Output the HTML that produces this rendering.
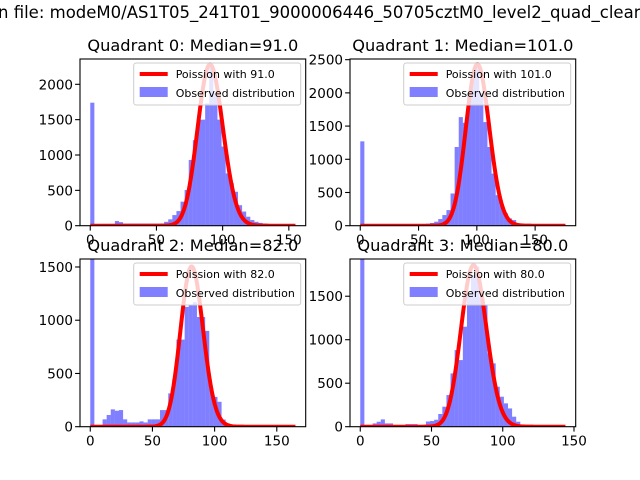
<!DOCTYPE html>
<html><head><meta charset="utf-8"><style>
html,body{margin:0;padding:0;background:#fff;width:640px;height:480px;overflow:hidden}
svg{display:block;font-family:"DejaVu Sans","Liberation Sans",sans-serif}
</style></head><body>
<svg id="fig" width="640" height="480" viewBox="0 0 640 480">
<text x="-2" y="18" font-size="16.5" fill="#000">n file: modeM0/AS1T05_241T01_9000006446_50705cztM0_level2_quad_clean.evt</text>
</svg>
<script>
const titles = ["Quadrant 0: Median=91.0","Quadrant 1: Median=101.0","Quadrant 2: Median=82.0","Quadrant 3: Median=80.0"];
const lambdas = [91, 101, 82, 80];
const dataMax = [155, 176, 165, 144];
const curveScale = [54600, 61300, 34180, 41660];
const yMaxes = [2358, 2510, 1575, 1928];
const xTicks = [[0,50,100,150],[0,50,100,150],[0,50,100,150],[0,50,100,150]];
const yTicks = [[0,500,1000,1500,2000],[0,500,1000,1500,2000,2500],[0,500,1000,1500],[0,500,1000,1500]];
const counts0 = [1740,0,10,25,25,25,66,50,30,30,30,30,30,30,30,30,30,30,55,90,150,207,340,505,930,1210,1500,1500,1730,2260,1870,1500,1120,740,600,480,290,200,127,80,55,40,30,20,15,5,0,0,0,0];
const counts1 = [1270,5,5,5,5,5,5,5,5,5,5,5,5,5,5,5,30,40,60,100,160,235,485,1185,1635,1550,1985,2235,2410,1995,1560,1185,785,460,310,185,110,85,35,20,15,5,0,0,0,0,0,0,0,0];
const counts2 = [2500,0,0,69,110,163,150,156,69,40,40,40,50,40,69,69,69,156,156,313,450,818,818,1125,1140,1170,1030,1030,900,360,280,234,67,30,15,5,0,0,0,0,0,0,0,0,0,0,0,0,0,0];
const counts3 = [2500,0,0,38,57,84,38,38,5,5,5,30,30,30,10,15,60,65,80,146,230,364,613,881,766,1150,1533,1743,1840,1494,1400,843,728,460,345,268,210,115,57,20,10,0,0,0,0,0,0,0,0,0];
const allCounts = [counts0, counts1, counts2, counts3];

const boxes = [{l:80,r:305.7,t:59,b:225.7},{l:350,r:575.7,t:59,b:225.7},{l:80,r:305.7,t:259,b:426.7},{l:350,r:575.7,t:259,b:426.7}];
const NS = "http://www.w3.org/2000/svg";
const svg = document.getElementById('fig');
function mk(tag, attrs, parent){const e=document.createElementNS(NS,tag);for(const k in attrs)e.setAttribute(k,attrs[k]);(parent||svg).appendChild(e);return e;}
function lgamma(z){
  let s=0; while(z<7){s-=Math.log(z);z+=1;}
  return s+(z-0.5)*Math.log(z)-z+0.5*Math.log(2*Math.PI)+1/(12*z)-1/(360*z*z*z)+1/(1260*Math.pow(z,5));
}
for(let q=0;q<4;q++){
  const B=boxes[q], mx=dataMax[q], pad=mx*0.05;
  const x0=-pad, x1=mx+pad, ymax=yMaxes[q];
  const X=v=>B.l+(v-x0)/(x1-x0)*(B.r-B.l);
  const Y=v=>B.b-v/ymax*(B.b-B.t);
  const g=mk('g',{});
  
  
  const cid='clip'+q;
  const cp=mk('clipPath',{id:cid},g);mk('rect',{x:B.l,y:B.t,width:B.r-B.l,height:B.b-B.t},cp);
  const plot=mk('g',{'clip-path':'url(#'+cid+')'},g);
  const counts=allCounts[q], n=counts.length, bw=mx/n;
  counts.forEach((c,i)=>{
    if(c<=0)return;
    const r=mk('rect',{x:X(i*bw),y:Y(c),width:X((i+1)*bw)-X(i*bw),height:B.b-Y(c),fill:'#0000ff','fill-opacity':0.5},plot);
    
    
  });
  const lam=lambdas[q];let d='';
  for(let k=0;k<=mx;k++){
    const p=Math.exp(k*Math.log(lam)-lam-lgamma(k+1))*curveScale[q];
    d+=(k?'L':'M')+X(k).toFixed(2)+' '+Y(p).toFixed(2);
  }
  const line=mk('path',{d:d,fill:'none',stroke:'#ff0000','stroke-width':4,'stroke-linejoin':'round'},plot);
  
  
  const frame=mk('rect',{x:B.l,y:B.t,width:B.r-B.l,height:B.b-B.t,fill:'none',stroke:'#000','stroke-width':1.1},g);
  
  
  xTicks[q].forEach(t=>{
    const x=X(t);
    mk('line',{x1:x,x2:x,y1:B.b,y2:B.b+4.9,stroke:'#000','stroke-width':1.1},g);
    const tx=mk('text',{x:x,y:B.b+19,'font-size':13.5,'text-anchor':'middle'},g);tx.textContent=t;
    
    
  });
  yTicks[q].forEach(t=>{
    const y=Y(t);
    mk('line',{x1:B.l-4.9,x2:B.l,y1:y,y2:y,stroke:'#000','stroke-width':1.1},g);
    const tx=mk('text',{x:B.l-7,y:y+5,'font-size':13.5,'text-anchor':'end'},g);tx.textContent=t;
    
    
  });
  const tt=mk('text',{x:(B.l+B.r)/2,y:B.t-8,'font-size':16.2,'text-anchor':'middle'},g);tt.textContent=titles[q];
  
  
  const lg=mk('g',{},g);
  
  
  const lx=B.r-172, ly=B.t+4;
  mk('rect',{x:lx,y:ly,width:167,height:42,rx:2.5,fill:'#fff','fill-opacity':0.8,stroke:'#cccccc','stroke-width':1},lg);
  mk('line',{x1:lx+6,x2:lx+34,y1:ly+11,y2:ly+11,stroke:'#ff0000','stroke-width':4},lg);
  const t1=mk('text',{x:lx+42,y:ly+15,'font-size':11},lg);t1.textContent='Poission with '+lam.toFixed(1);
  
  
  mk('rect',{x:lx+6,y:ly+24,width:28,height:10,fill:'#0000ff','fill-opacity':0.5},lg);
  const t2=mk('text',{x:lx+42,y:ly+34,'font-size':11},lg);t2.textContent='Observed distribution';
  
  
}
</script>
</body></html>
